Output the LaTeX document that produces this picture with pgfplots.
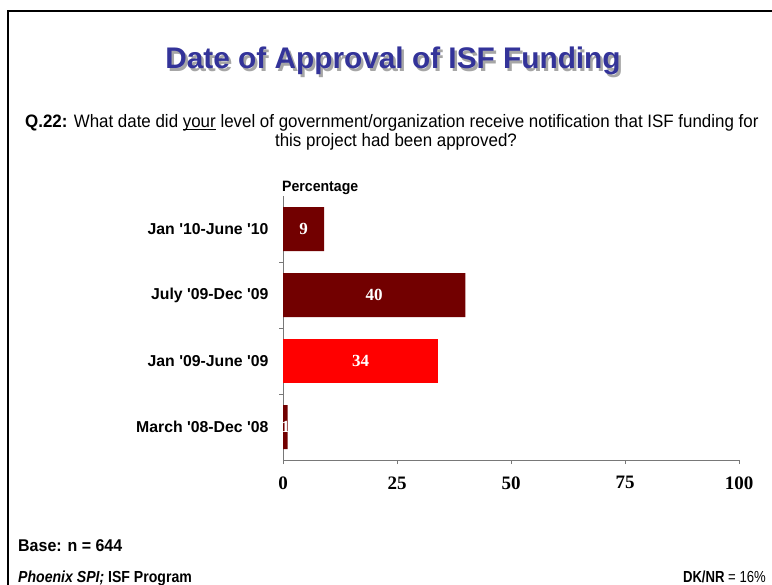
\documentclass[border=0pt]{standalone}
\usepackage{fontspec}
\newfontfamily\arial{Liberation Sans}
\newfontfamily\narrow{Liberation Sans}[FakeStretch=0.94]
\newfontfamily\narrowb{Liberation Sans}[FakeStretch=0.88]
\newfontfamily\narrowc{Liberation Sans}[FakeStretch=0.82]
\newfontfamily\timesf{Liberation Serif}
\usepackage{pgfplots}
\pgfplotsset{compat=1.18}
\definecolor{darkred}{RGB}{114,0,0}
\definecolor{brightred}{RGB}{255,0,0}
\definecolor{titleblue}{RGB}{51,51,153}
\definecolor{axisgray}{RGB}{120,120,120}
\begin{document}
\begin{tikzpicture}[x=1pt,y=-1pt]
\useasboundingbox (0,0) rectangle (772,585);
\draw[line width=1.6pt] (8,585) -- (8,11) -- (772,11);
\node[anchor=base, inner sep=0pt, font=\arial\fontsize{29.8}{34}\selectfont\bfseries, text=black!35] at (395.5,71.5) {Date of Approval of ISF Funding};
\node[anchor=base, inner sep=0pt, font=\arial\fontsize{29.8}{34}\selectfont\bfseries, text=titleblue] at (393,69) {Date of Approval of ISF Funding};
\node[anchor=base west, inner sep=0pt, font=\narrow\fontsize{18}{20}\selectfont] at (25,128) {\textbf{Q.22:} What date did \underline{\smash{your}} level of government/organization receive notification that ISF funding for};
\node[anchor=base, inner sep=0pt, font=\narrow\fontsize{18}{20}\selectfont] at (396,147) {this project had been approved?};
\node[anchor=base west, inner sep=0pt, font=\narrow\fontsize{15}{17}\selectfont\bfseries] at (282,192) {Percentage};
\node[anchor=base west, inner sep=0pt, font=\narrow\fontsize{17}{19}\selectfont\bfseries] at (18,551) {Base: n = 644};
\node[anchor=base west, inner sep=0pt, font=\narrowb\fontsize{16}{18}\selectfont\bfseries] at (18,582) {\textit{Phoenix SPI;} ISF Program};
\node[anchor=base east, inner sep=0pt, font=\narrowc\fontsize{16}{18}\selectfont] at (766,582) {\textbf{DK/NR} = 16\%};
\coordinate (O) at (283,460);
\begin{axis}[
  at={(O)}, anchor=south west,
  scale only axis, width=456pt, height=264pt,
  xmin=0, xmax=100, ymin=-0.5, ymax=3.5,
  axis lines=left, axis line style={-, axisgray, line width=0.8pt},
  tick align=outside, major tick length=4pt,
  tick style={axisgray, line width=0.8pt},
  xtick={0,25,50,75,100},
  /pgf/number format/assume math mode=true,
  x tick label style={font=\timesf\bfseries\fontsize{19}{21}\selectfont, yshift=-9pt},
  ytick={0.5,1.5,2.5}, yticklabels={},
  extra y ticks={0,1,2,3},
  extra y tick labels={March '08-Dec '08, Jan '09-June '09, July '09-Dec '09, Jan '10-June '10},
  extra y tick style={major tick length=0pt, tick label style={font=\arial\bfseries\fontsize{15.8}{18}\selectfont, xshift=-11pt}},
  clip=false,
]
\addplot[xbar, bar width=44pt, bar shift=0pt, draw=none, fill=darkred] coordinates {(40,2) (9,3) (1,0)};
\addplot[xbar, bar width=44pt, bar shift=0pt, draw=none, fill=brightred] coordinates {(34,1)};
\addplot[draw=none, mark=none, nodes near coords, point meta=explicit symbolic,
  every node near coord/.style={anchor=center, inner sep=0pt, text=white, font=\timesf\bfseries\fontsize{17}{19}\selectfont}]
  coordinates {(4.5,3)[9] (20,2)[40] (17,1)[34] (0.6,0)[1]};
\end{axis}
\end{tikzpicture}
\end{document}
